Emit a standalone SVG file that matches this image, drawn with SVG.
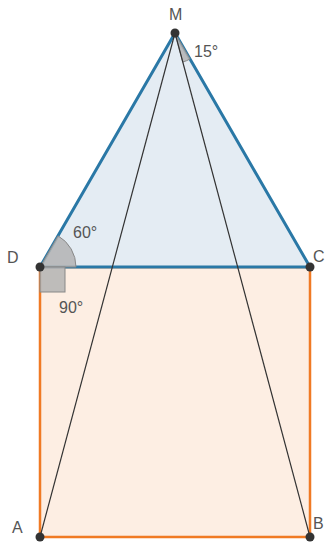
<svg xmlns="http://www.w3.org/2000/svg" width="325" height="542" viewBox="0 0 325 542">
<style>
.lbl{font-family:"Liberation Sans",Arial,sans-serif;font-size:16px;fill:#555}
.pt{fill:#333}
.ang{fill:#b3b3b3;fill-opacity:0.85;stroke:#888;stroke-width:1}
</style>
<rect width="325" height="542" fill="#fff"/>
<g id="square">
<polygon points="40,267 310,267 310,537 40,537" fill="#fdeee3" stroke="#f07a24" stroke-width="2.5"/>
</g>
<g id="triangle">
<polygon points="175,33 40,267 310,267" fill="#e4ecf3" stroke="#2a78a6" stroke-width="3" stroke-linejoin="round"/>
</g>
<g id="angles">
<path class="ang" d="M40,267 L76,267 A36,36 0 0 0 58,235.8 Z"/>
<rect class="ang" x="40" y="267" width="25" height="25"/>
<path class="ang" d="M175,33 L190,59 A30,30 0 0 1 182.8,62 Z"/>
</g>
<g id="connectors">
<line x1="175" y1="33" x2="40" y2="537" stroke="#333" stroke-width="1.2"/>
<line x1="175" y1="33" x2="310" y2="537" stroke="#333" stroke-width="1.2"/>
</g>
<g id="M"><circle class="pt" cx="175" cy="33" r="4.5"/><text class="lbl" x="169" y="20">M</text></g>
<g id="D"><circle class="pt" cx="40" cy="267" r="4.5"/><text class="lbl" x="7" y="263">D</text></g>
<g id="C"><circle class="pt" cx="310" cy="267" r="4.5"/><text class="lbl" x="313" y="262">C</text></g>
<g id="A"><circle class="pt" cx="40" cy="537" r="4.5"/><text class="lbl" x="12" y="533">A</text></g>
<g id="B"><circle class="pt" cx="310" cy="537" r="4.5"/><text class="lbl" x="313" y="529">B</text></g>
<g id="labels">
<text class="lbl" x="73" y="238">60°</text>
<text class="lbl" x="59" y="313">90°</text>
<text class="lbl" x="194" y="57">15°</text>
</g>
</svg>
